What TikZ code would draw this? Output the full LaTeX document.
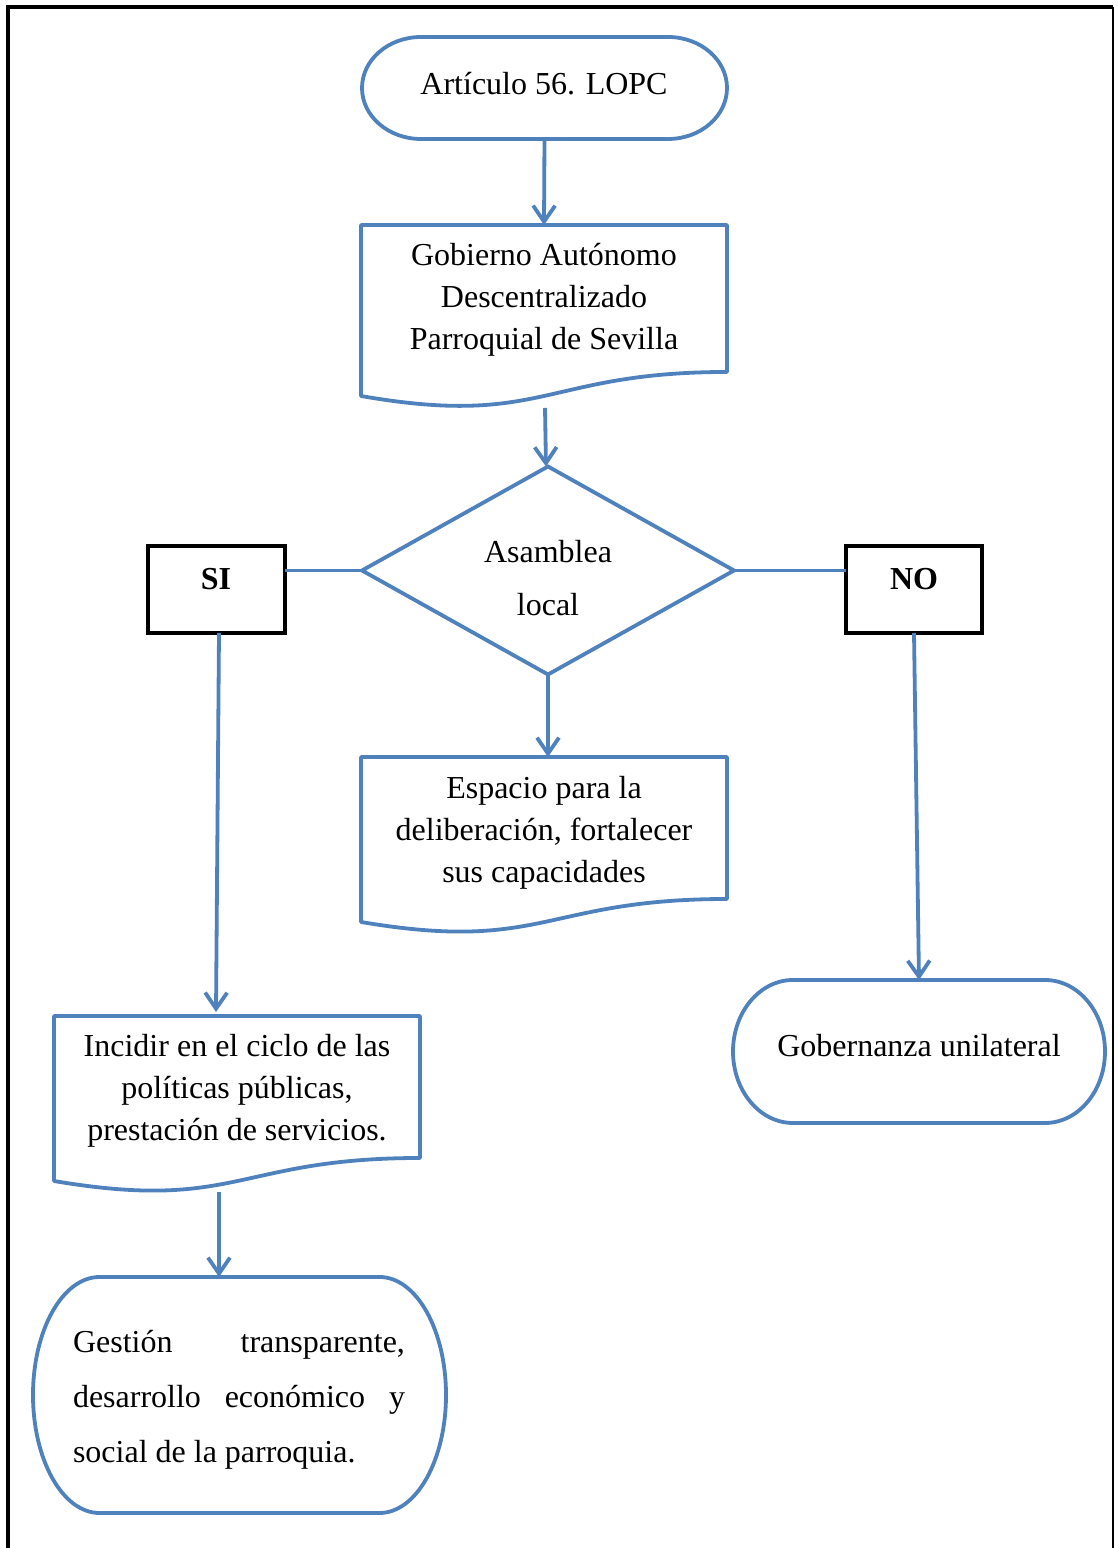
\documentclass[tikz,border=0pt]{standalone}
\usepackage{fontspec}
\setmainfont{Liberation Serif}
\usetikzlibrary{arrows.meta,calc,shapes.geometric}
\definecolor{wblue}{RGB}{79,129,189}
\begin{document}
\begin{tikzpicture}[x=0.5pt,y=0.5pt,
  shp/.style={draw=wblue,line width=1.9pt,line join=round},
  conn/.style={draw=wblue,line width=1.9pt},
  arr/.style={conn,-{Straight Barb[length=8pt,width=11pt]}},
  area/.style={inner sep=0pt,outer sep=0pt,draw=none},
  txt/.style={font=\fontsize{16}{21}\selectfont,align=center,inner sep=0pt},
  choice/.style={draw=black,line width=1.8pt,inner sep=0pt,outer sep=0pt},
  btxt/.style={font=\fontsize{16}{21}\selectfont\bfseries,inner sep=0pt}]
\useasboundingbox (0,0) rectangle (1118,1548);
% frame
\draw[line width=2.3pt] (8,-10) -- (8,1541) -- (1113,1541);
\draw[line width=1pt] (1113,1541) -- (1113,-10);

% start terminator
\node[area,minimum width=182.5pt,minimum height=51pt] (start) at (544.5,1460) {};
\draw[shp] (421,1511) -- (668,1511) arc[start angle=90,end angle=-90,x radius=29.5pt,y radius=25.5pt]
  -- (421,1409) arc[start angle=270,end angle=90,x radius=29.5pt,y radius=25.5pt] -- cycle;
\node[txt] (starttxt) at (544,1464) {Artículo 56. LOPC};

% document 1
\node[area,minimum width=183pt,minimum height=85.5pt] (gad) at (544,1237.5) {};
\draw[shp] (361,1323) -- (727,1323) -- (727,1176) .. controls (544,1176) and (544,1120) .. (361,1152) -- cycle;
\node[txt] (gadtxt) at (544,1248) {Gobierno Autónomo\\Descentralizado\\Parroquial de Sevilla};

% decision
\node[diamond,draw=wblue,line width=1.9pt,minimum width=186pt,minimum height=104pt,inner sep=0pt,outer sep=0pt,aspect=1.79] (dia) at (548,977.5) {};
\node[txt,font=\fontsize{16}{26.5}\selectfont] (diatxt) at (548,969.5) {Asamblea\\local};

% SI / NO
\node[choice,minimum width=68.5pt,minimum height=43.5pt] (si) at (216.5,958.5) {};
\node[btxt] (sitxt) at (216,969) {SI};
\node[choice,minimum width=68pt,minimum height=43.5pt] (no) at (914,958.5) {};
\node[btxt] (notxt) at (914,969) {NO};

% document 2
\node[area,minimum width=183pt,minimum height=82.5pt] (esp) at (544,708.5) {};
\draw[shp] (361,791) -- (727,791) -- (727,649) .. controls (544,649) and (544,595) .. (361,626) -- cycle;
\node[txt] (esptxt) at (544,715) {Espacio para la\\deliberación, fortalecer\\sus capacidades};

% document 3
\node[area,minimum width=183pt,minimum height=82.5pt] (inc) at (237,449.5) {};
\draw[shp] (54,532) -- (420,532) -- (420,390) .. controls (237,390) and (237,336) .. (54,367) -- cycle;
\node[txt] (inctxt) at (237,457) {Incidir en el ciclo de las\\políticas públicas,\\prestación de servicios.};

% Gobernanza terminator
\node[area,minimum width=186pt,minimum height=71.5pt] (gob) at (919,496.5) {};
\draw[shp] (793,568) -- (1045,568) arc[start angle=90,end angle=-90,x radius=30pt,y radius=35.75pt]
  -- (793,425) arc[start angle=270,end angle=90,x radius=30pt,y radius=35.75pt] -- cycle;
\node[txt] (gobtxt) at (919,502) {Gobernanza unilateral};

% Gestion terminator
\node[area,minimum width=206.5pt,minimum height=118pt] (ges) at (239.5,153) {};
\draw[shp] (99.5,271) -- (379.5,271) arc[start angle=90,end angle=-90,x radius=33.25pt,y radius=59pt]
  -- (99.5,35) arc[start angle=270,end angle=90,x radius=33.25pt,y radius=59pt] -- cycle;
\node[txt,font=\fontsize{16}{27.5}\selectfont,text width=166pt,align=justify] (gestxt) at (239,148)
  {Gestión transparente,\linebreak desarrollo económico y\linebreak social de la parroquia.};

% connectors
\draw[arr] (start.south) -- (gad.north);
\draw[arr] ($(gad.south)+(1,-12)$) -- ($(dia.north)+(-2,0)$);
\draw[conn] (dia.west) -- (si.east |- dia.west);
\draw[conn] (dia.east) -- (no.west |- dia.east);
\draw[arr] (dia.south) -- (dia.south |- esp.north);
\draw[arr] ($(si.south)+(2.5,0)$) -- ($(inc.north)+(-21,4)$);
\draw[arr] (no.south) -- (gob.north);
\draw[arr] ($(inc.south)+(-18,-11)$) -- ($(ges.north)+(-20.5,0)$);
\end{tikzpicture}
\end{document}
